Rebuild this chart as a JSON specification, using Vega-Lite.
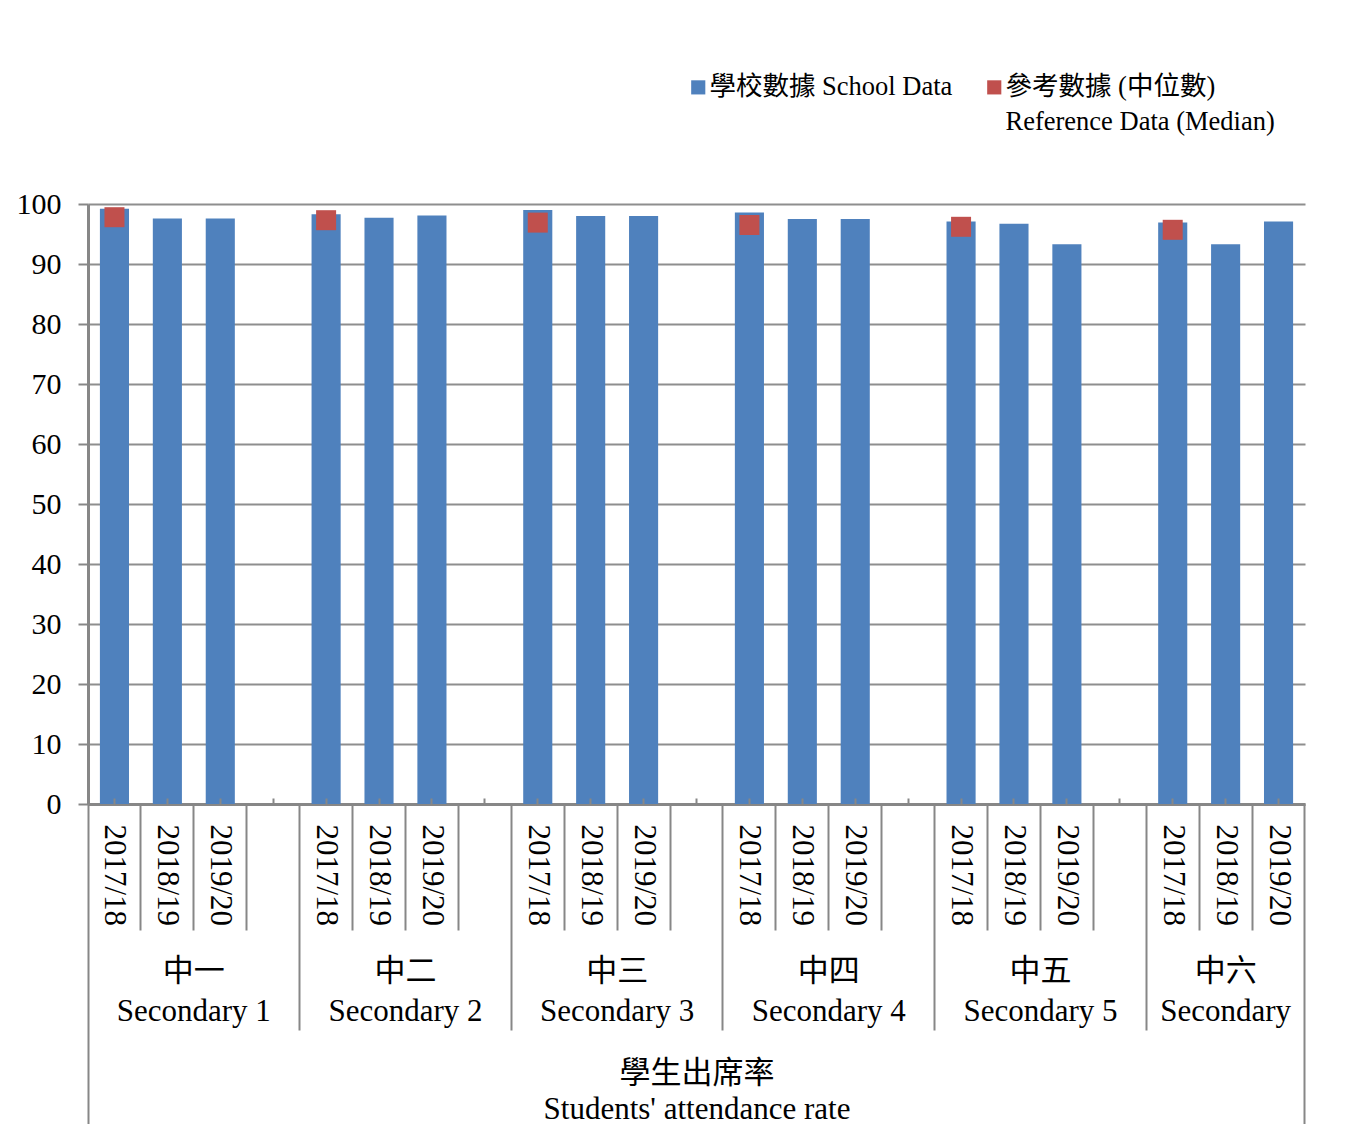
{
  "$schema": "https://vega.github.io/schema/vega-lite/v6.json",
  "width": 1217,
  "height": 600,
  "autosize": {"type": "none"},
  "padding": {"left": 88, "top": 204, "right": 47, "bottom": 320},
  "background": "white",
  "config": {"view": {"stroke": null}, "font": "Liberation Serif, Noto Sans CJK TC"},
  "datasets": {
    "rows": [
      {"slot": "中一|Secondary 1|2017/18", "school": 99.2, "median": 97.8},
      {"slot": "中一|Secondary 1|2018/19", "school": 97.6, "median": null},
      {"slot": "中一|Secondary 1|2019/20", "school": 97.6, "median": null},
      {"slot": "中二|Secondary 2|2017/18", "school": 98.3, "median": 97.3},
      {"slot": "中二|Secondary 2|2018/19", "school": 97.7, "median": null},
      {"slot": "中二|Secondary 2|2019/20", "school": 98.1, "median": null},
      {"slot": "中三|Secondary 3|2017/18", "school": 99.0, "median": 96.9},
      {"slot": "中三|Secondary 3|2018/19", "school": 98.0, "median": null},
      {"slot": "中三|Secondary 3|2019/20", "school": 98.0, "median": null},
      {"slot": "中四|Secondary 4|2017/18", "school": 98.6, "median": 96.5},
      {"slot": "中四|Secondary 4|2018/19", "school": 97.5, "median": null},
      {"slot": "中四|Secondary 4|2019/20", "school": 97.5, "median": null},
      {"slot": "中五|Secondary 5|2017/18", "school": 97.1, "median": 96.2},
      {"slot": "中五|Secondary 5|2018/19", "school": 96.7, "median": null},
      {"slot": "中五|Secondary 5|2019/20", "school": 93.3, "median": null},
      {"slot": "中六|Secondary 6|2017/18", "school": 96.9, "median": 95.7},
      {"slot": "中六|Secondary 6|2018/19", "school": 93.3, "median": null},
      {"slot": "中六|Secondary 6|2019/20", "school": 97.1, "median": null}
    ],
    "none": []
  },
  "resolve": {"axis": {"x": "independent"}},
  "layer": [
    {
      "data": {"name": "rows"},
      "mark": {"type": "bar", "width": {"band": 0.55}},
      "encoding": {
        "x": {
          "field": "slot", "type": "nominal",
          "scale": {"type": "band", "paddingInner": 0, "paddingOuter": 0, "domain": ["中一|Secondary 1|2017/18","中一|Secondary 1|2018/19","中一|Secondary 1|2019/20","中一|Secondary 1|gap","中二|Secondary 2|2017/18","中二|Secondary 2|2018/19","中二|Secondary 2|2019/20","中二|Secondary 2|gap","中三|Secondary 3|2017/18","中三|Secondary 3|2018/19","中三|Secondary 3|2019/20","中三|Secondary 3|gap","中四|Secondary 4|2017/18","中四|Secondary 4|2018/19","中四|Secondary 4|2019/20","中四|Secondary 4|gap","中五|Secondary 5|2017/18","中五|Secondary 5|2018/19","中五|Secondary 5|2019/20","中五|Secondary 5|gap","中六|Secondary 6|2017/18","中六|Secondary 6|2018/19","中六|Secondary 6|2019/20"]},
          "axis": {
            "orient": "bottom", "title": null, "grid": false, "ticks": false, "domain": true,
            "domainColor": "#878787", "domainWidth": 3,
            "labelExpr": "split(datum.value, '|')[2] == 'gap' ? '' : split(datum.value, '|')[2]",
            "labelAngle": 90, "labelFont": "Liberation Serif, Noto Sans CJK TC", "labelFontSize": 31,
            "labelColor": "#000000", "labelPadding": 20, "labelOverlap": false, "labelLimit": 400
          }
        },
        "y": {
          "field": "school", "type": "quantitative",
          "scale": {"domain": [0, 100], "nice": false},
          "axis": {
            "title": null, "values": [0, 10, 20, 30, 40, 50, 60, 70, 80, 90, 100],
            "grid": true, "gridColor": "#8E8E8E", "gridWidth": 2,
            "domainColor": "#878787", "domainWidth": 3,
            "tickColor": "#878787", "tickWidth": 2, "tickSize": 10,
            "labelFont": "Liberation Serif, Noto Sans CJK TC", "labelFontSize": 30,
            "labelColor": "#000000", "labelPadding": 17
          }
        },
        "color": {
          "datum": "學校數據 School Data", "type": "nominal",
          "scale": {"domain": ["學校數據 School Data", "參考數據 (中位數)"], "range": ["#4F81BD", "#C0504D"]},
          "legend": {
            "orient": "none", "legendX": 597, "legendY": -130, "direction": "horizontal",
            "title": null, "symbolType": "square", "symbolSize": 190, "symbolStrokeWidth": 0, "symbolOpacity": 1,
            "labelFont": "Liberation Serif, Noto Sans CJK TC", "labelFontSize": 26.5, "labelColor": "#000000",
            "labelLimit": 500, "labelOffset": -2, "columnPadding": 28, "padding": 0,
            "labelExpr": "datum.value == '參考數據 (中位數)' ? ['參考數據 (中位數)', 'Reference Data (Median)'] : [datum.label, ' ']",
            "encode": {"labels": {"update": {"lineHeight": {"value": 35}}}, "symbols": {"update": {"size": {"value": 200}, "strokeWidth": {"value": 0}}}}
          }
        }
      }
    },
    {
      "data": {"name": "rows"},
      "mark": {"type": "point", "shape": "square", "size": 400, "filled": true, "opacity": 1, "strokeWidth": 0},
      "encoding": {
        "x": {
          "field": "slot", "type": "nominal",
          "scale": {"type": "band", "paddingInner": 0, "paddingOuter": 0, "domain": ["中一|Secondary 1|2017/18","中一|Secondary 1|2018/19","中一|Secondary 1|2019/20","中一|Secondary 1|gap","中二|Secondary 2|2017/18","中二|Secondary 2|2018/19","中二|Secondary 2|2019/20","中二|Secondary 2|gap","中三|Secondary 3|2017/18","中三|Secondary 3|2018/19","中三|Secondary 3|2019/20","中三|Secondary 3|gap","中四|Secondary 4|2017/18","中四|Secondary 4|2018/19","中四|Secondary 4|2019/20","中四|Secondary 4|gap","中五|Secondary 5|2017/18","中五|Secondary 5|2018/19","中五|Secondary 5|2019/20","中五|Secondary 5|gap","中六|Secondary 6|2017/18","中六|Secondary 6|2018/19","中六|Secondary 6|2019/20"]},
          "axis": {
            "orient": "bottom", "title": null, "grid": false, "labels": false, "domain": false, "zindex": 1,
            "ticks": true, "tickSize": -6, "tickColor": "#878787", "tickWidth": 2
          }
        },
        "y": {
          "field": "median", "type": "quantitative",
          "scale": {"domain": [0, 100], "nice": false},
          "axis": {
            "title": null, "values": [0, 10, 20, 30, 40, 50, 60, 70, 80, 90, 100],
            "grid": true, "gridColor": "#8E8E8E", "gridWidth": 2,
            "domainColor": "#878787", "domainWidth": 3,
            "tickColor": "#878787", "tickWidth": 2, "tickSize": 10,
            "labelFont": "Liberation Serif, Noto Sans CJK TC", "labelFontSize": 30,
            "labelColor": "#000000", "labelPadding": 17
          }
        },
        "color": {
          "datum": "參考數據 (中位數)", "type": "nominal",
          "scale": {"domain": ["學校數據 School Data", "參考數據 (中位數)"], "range": ["#4F81BD", "#C0504D"]},
          "legend": {
            "orient": "none", "legendX": 597, "legendY": -130, "direction": "horizontal",
            "title": null, "symbolType": "square", "symbolSize": 190, "symbolStrokeWidth": 0, "symbolOpacity": 1,
            "labelFont": "Liberation Serif, Noto Sans CJK TC", "labelFontSize": 26.5, "labelColor": "#000000",
            "labelLimit": 500, "labelOffset": -2, "columnPadding": 28, "padding": 0,
            "labelExpr": "datum.value == '參考數據 (中位數)' ? ['參考數據 (中位數)', 'Reference Data (Median)'] : [datum.label, ' ']",
            "encode": {"labels": {"update": {"lineHeight": {"value": 35}}}, "symbols": {"update": {"size": {"value": 200}, "strokeWidth": {"value": 0}}}}
          }
        }
      }
    },
    {
      "data": {"name": "none"},
      "mark": "point",
      "encoding": {
        "x": {
          "field": "slot", "type": "nominal",
          "scale": {"type": "band", "paddingInner": 0, "paddingOuter": 0, "domain": ["中一|Secondary 1|2017/18","中一|Secondary 1|2018/19","中一|Secondary 1|2019/20","中一|Secondary 1|gap","中二|Secondary 2|2017/18","中二|Secondary 2|2018/19","中二|Secondary 2|2019/20","中二|Secondary 2|gap","中三|Secondary 3|2017/18","中三|Secondary 3|2018/19","中三|Secondary 3|2019/20","中三|Secondary 3|gap","中四|Secondary 4|2017/18","中四|Secondary 4|2018/19","中四|Secondary 4|2019/20","中四|Secondary 4|gap","中五|Secondary 5|2017/18","中五|Secondary 5|2018/19","中五|Secondary 5|2019/20","中五|Secondary 5|gap","中六|Secondary 6|2017/18","中六|Secondary 6|2018/19","中六|Secondary 6|2019/20"]},
          "axis": {
            "orient": "bottom", "title": null, "grid": false, "labels": false, "domain": false,
            "bandPosition": 0, "ticks": true, "tickSize": 126, "tickColor": "#878787", "tickWidth": 2,
            "values": ["中一|Secondary 1|2018/19","中一|Secondary 1|2019/20","中一|Secondary 1|gap","中二|Secondary 2|2018/19","中二|Secondary 2|2019/20","中二|Secondary 2|gap","中三|Secondary 3|2018/19","中三|Secondary 3|2019/20","中三|Secondary 3|gap","中四|Secondary 4|2018/19","中四|Secondary 4|2019/20","中四|Secondary 4|gap","中五|Secondary 5|2018/19","中五|Secondary 5|2019/20","中五|Secondary 5|gap","中六|Secondary 6|2018/19","中六|Secondary 6|2019/20"]
          }
        }
      }
    },
    {
      "data": {"name": "none"},
      "mark": "point",
      "encoding": {
        "x": {
          "field": "slot", "type": "nominal",
          "scale": {"type": "band", "paddingInner": 0, "paddingOuter": 0, "domain": ["中一|Secondary 1|2017/18","中一|Secondary 1|2018/19","中一|Secondary 1|2019/20","中一|Secondary 1|gap","中二|Secondary 2|2017/18","中二|Secondary 2|2018/19","中二|Secondary 2|2019/20","中二|Secondary 2|gap","中三|Secondary 3|2017/18","中三|Secondary 3|2018/19","中三|Secondary 3|2019/20","中三|Secondary 3|gap","中四|Secondary 4|2017/18","中四|Secondary 4|2018/19","中四|Secondary 4|2019/20","中四|Secondary 4|gap","中五|Secondary 5|2017/18","中五|Secondary 5|2018/19","中五|Secondary 5|2019/20","中五|Secondary 5|gap","中六|Secondary 6|2017/18","中六|Secondary 6|2018/19","中六|Secondary 6|2019/20"]},
          "axis": {
            "orient": "bottom", "title": null, "grid": false, "labels": false, "domain": false,
            "bandPosition": 0, "ticks": true, "tickSize": 226, "tickColor": "#878787", "tickWidth": 2,
            "values": ["中二|Secondary 2|2017/18","中三|Secondary 3|2017/18","中四|Secondary 4|2017/18","中五|Secondary 5|2017/18","中六|Secondary 6|2017/18"]
          }
        }
      }
    },
    {
      "data": {"name": "none"},
      "mark": "point",
      "encoding": {
        "x": {
          "field": "slot", "type": "nominal",
          "scale": {"type": "band", "paddingInner": 0, "paddingOuter": 0, "domain": ["中一|Secondary 1|2017/18","中一|Secondary 1|2018/19","中一|Secondary 1|2019/20","中一|Secondary 1|gap","中二|Secondary 2|2017/18","中二|Secondary 2|2018/19","中二|Secondary 2|2019/20","中二|Secondary 2|gap","中三|Secondary 3|2017/18","中三|Secondary 3|2018/19","中三|Secondary 3|2019/20","中三|Secondary 3|gap","中四|Secondary 4|2017/18","中四|Secondary 4|2018/19","中四|Secondary 4|2019/20","中四|Secondary 4|gap","中五|Secondary 5|2017/18","中五|Secondary 5|2018/19","中五|Secondary 5|2019/20","中五|Secondary 5|gap","中六|Secondary 6|2017/18","中六|Secondary 6|2018/19","中六|Secondary 6|2019/20"]},
          "axis": {
            "orient": "bottom", "title": null, "grid": false, "labels": false, "domain": false,
            "bandPosition": 0, "ticks": true, "tickSize": 322, "tickColor": "#878787", "tickWidth": 2,
            "values": ["中一|Secondary 1|2017/18"]
          }
        }
      }
    },
    {
      "data": {"name": "none"},
      "mark": "point",
      "encoding": {
        "x": {
          "field": "slot", "type": "nominal",
          "scale": {"type": "band", "paddingInner": 0, "paddingOuter": 0, "domain": ["中一|Secondary 1|2017/18","中一|Secondary 1|2018/19","中一|Secondary 1|2019/20","中一|Secondary 1|gap","中二|Secondary 2|2017/18","中二|Secondary 2|2018/19","中二|Secondary 2|2019/20","中二|Secondary 2|gap","中三|Secondary 3|2017/18","中三|Secondary 3|2018/19","中三|Secondary 3|2019/20","中三|Secondary 3|gap","中四|Secondary 4|2017/18","中四|Secondary 4|2018/19","中四|Secondary 4|2019/20","中四|Secondary 4|gap","中五|Secondary 5|2017/18","中五|Secondary 5|2018/19","中五|Secondary 5|2019/20","中五|Secondary 5|gap","中六|Secondary 6|2017/18","中六|Secondary 6|2018/19","中六|Secondary 6|2019/20"]},
          "axis": {
            "orient": "bottom", "title": null, "grid": false, "labels": false, "domain": false,
            "bandPosition": 1, "ticks": true, "tickSize": 322, "tickColor": "#878787", "tickWidth": 2,
            "values": ["中六|Secondary 6|2019/20"]
          }
        }
      }
    },
    {
      "data": {"name": "none"},
      "mark": "point",
      "encoding": {
        "x": {
          "field": "slot", "type": "nominal",
          "scale": {"type": "band", "paddingInner": 0, "paddingOuter": 0, "domain": ["中一|Secondary 1|2017/18","中一|Secondary 1|2018/19","中一|Secondary 1|2019/20","中一|Secondary 1|gap","中二|Secondary 2|2017/18","中二|Secondary 2|2018/19","中二|Secondary 2|2019/20","中二|Secondary 2|gap","中三|Secondary 3|2017/18","中三|Secondary 3|2018/19","中三|Secondary 3|2019/20","中三|Secondary 3|gap","中四|Secondary 4|2017/18","中四|Secondary 4|2018/19","中四|Secondary 4|2019/20","中四|Secondary 4|gap","中五|Secondary 5|2017/18","中五|Secondary 5|2018/19","中五|Secondary 5|2019/20","中五|Secondary 5|gap","中六|Secondary 6|2017/18","中六|Secondary 6|2018/19","中六|Secondary 6|2019/20"]},
          "axis": {
            "orient": "bottom", "grid": false, "ticks": false, "domain": false,
            "values": ["中一|Secondary 1|2018/19","中二|Secondary 2|2018/19","中三|Secondary 3|2018/19","中四|Secondary 4|2018/19","中五|Secondary 5|2018/19"],
            "labelExpr": "[split(datum.value, '|')[0], split(datum.value, '|')[1]]",
            "labelOffset": 26.46,
            "labelFont": "Liberation Serif, Noto Sans CJK TC", "labelFontSize": 31, "labelColor": "#000000",
            "labelLineHeight": 40, "labelPadding": 152, "labelAngle": 0, "labelAlign": "center", "labelBaseline": "top",
            "labelOverlap": false, "labelLimit": 400,
            "title": ["學生出席率", "Students' attendance rate"],
            "titleFont": "Liberation Serif, Noto Sans CJK TC", "titleFontSize": 31, "titleFontWeight": "normal",
            "titleColor": "#000000", "titleLineHeight": 36, "titleBaseline": "top", "titleY": 254
          }
        }
      }
    },
    {
      "data": {"name": "none"},
      "mark": "point",
      "encoding": {
        "x": {
          "field": "slot", "type": "nominal",
          "scale": {"type": "band", "paddingInner": 0, "paddingOuter": 0, "domain": ["中一|Secondary 1|2017/18","中一|Secondary 1|2018/19","中一|Secondary 1|2019/20","中一|Secondary 1|gap","中二|Secondary 2|2017/18","中二|Secondary 2|2018/19","中二|Secondary 2|2019/20","中二|Secondary 2|gap","中三|Secondary 3|2017/18","中三|Secondary 3|2018/19","中三|Secondary 3|2019/20","中三|Secondary 3|gap","中四|Secondary 4|2017/18","中四|Secondary 4|2018/19","中四|Secondary 4|2019/20","中四|Secondary 4|gap","中五|Secondary 5|2017/18","中五|Secondary 5|2018/19","中五|Secondary 5|2019/20","中五|Secondary 5|gap","中六|Secondary 6|2017/18","中六|Secondary 6|2018/19","中六|Secondary 6|2019/20"]},
          "axis": {
            "orient": "bottom", "title": null, "grid": false, "ticks": false, "domain": false,
            "values": ["中六|Secondary 6|2018/19"],
            "labelExpr": "['中六', 'Secondary']",
            "labelFont": "Liberation Serif, Noto Sans CJK TC", "labelFontSize": 31, "labelColor": "#000000",
            "labelLineHeight": 40, "labelPadding": 152, "labelAngle": 0, "labelAlign": "center", "labelBaseline": "top",
            "labelOverlap": false, "labelLimit": 400
          }
        }
      }
    }
  ]
}
